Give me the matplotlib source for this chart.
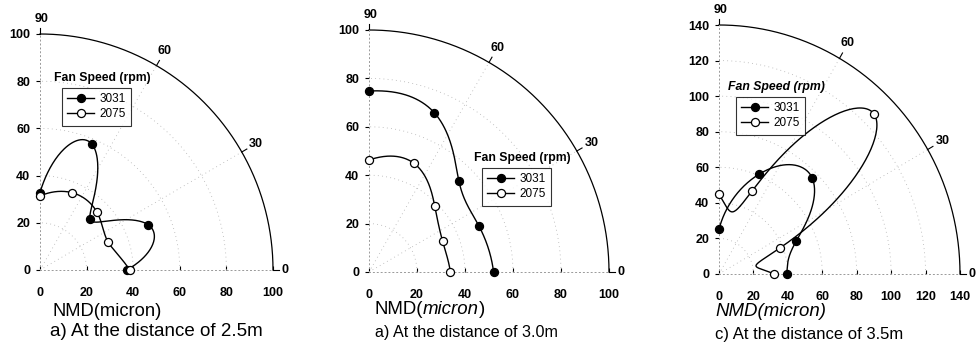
import numpy as np
import matplotlib.pyplot as plt

plt.rcParams['font.family'] = ['Liberation Sans', 'DejaVu Sans']

# angle of each measurement (deg) and NMD radius (micron) per fan speed
angles = [0, 22.5, 45, 67.5, 90]

a_3031 = [37.3, 50.2, 30.4, 57.9, 32.8]
a_2075 = [38.5, 31.5, 34.6, 35.5, 31.4]
b_3031 = [51.9, 49.6, 53.0, 71.2, 74.8]
b_2075 = [33.9, 33.2, 38.7, 48.7, 46.3]
c_3031 = [39.3, 48.6, 76.5, 60.7, 25.1]
c_2075 = [32.0, 38.4, 127.3, 50.8, 44.8]

series_names = ['3031', '2075']
r_max = [100, 100, 140]
angle_ticks = [0, 30, 60, 90]
captions = ['a) At the distance of 2.5m', 'a) At the distance of 3.0m',
            'c) At the distance of 3.5m']

# axes placement in pixels: origin x, origin y, x of r_max, y of r_max
px = [(40, 270, 273, 34), (369, 272, 609, 30), (719, 274, 960, 25)]
legend_px = [(62, 88), (482, 168), (736, 97)]
label_px = [(52, 311, 13.2), (374, 310, 13.4), (715, 312, 13.4)]
caption_px = [(50, 331, 13.5), (375, 332, 11.6), (715, 334, 12.0)]


def polar_spline(theta, r, n=60):
    # natural cubic spline of r against theta (the plot smooths in polar)
    theta = np.asarray(theta, float)
    r = np.asarray(r, float)
    k = len(r)
    h = np.diff(theta)
    A = np.zeros((k, k))
    rhs = np.zeros(k)
    A[0, 0] = A[-1, -1] = 1
    for i in range(1, k - 1):
        A[i, i - 1] = h[i - 1]
        A[i, i] = 2 * (h[i - 1] + h[i])
        A[i, i + 1] = h[i]
        rhs[i] = 6 * ((r[i + 1] - r[i]) / h[i] - (r[i] - r[i - 1]) / h[i - 1])
    M = np.linalg.solve(A, rhs)
    tt, rr = [], []
    u = np.linspace(0, 1, n)
    for i in range(k - 1):
        tt.append(theta[i] + u * h[i])
        rr.append((1 - u) * r[i] + u * r[i + 1]
                  + h[i] ** 2 / 6 * (((1 - u) ** 3 - (1 - u)) * M[i] + (u ** 3 - u) * M[i + 1]))
    tt = np.concatenate(tt)
    rr = np.concatenate(rr)
    return rr * np.cos(tt), rr * np.sin(tt)


W, H = 976, 354
fig = plt.figure(figsize=(W / 100, H / 100), dpi=100)

data = [(a_3031, a_2075), (b_3031, b_2075), (c_3031, c_2075)]
th = np.radians(angles)
grid_style = dict(color='#b0b0b0', lw=0.6, linestyle=(0, (1, 4)))

for k in range(3):
    x0, y0, x1, y1 = px[k]
    ax = fig.add_axes([x0 / W, (H - y0) / H, (x1 - x0) / W, (y0 - y1) / H])
    rm = r_max[k]
    ax.set_xlim(0, rm)
    ax.set_ylim(0, rm)
    for s in ['top', 'right']:
        ax.spines[s].set_visible(False)
    for s in ['left', 'bottom']:
        ax.spines[s].set_linestyle((0, (1, 3)))
        ax.spines[s].set_color('#999999')
        ax.spines[s].set_linewidth(0.7)
    ticks = np.arange(0, rm + 1, 20)
    ax.set_xticks(ticks)
    ax.set_yticks(ticks)
    ax.tick_params(axis='y', direction='out', length=3, width=0.8, pad=4, labelsize=9)
    ax.tick_params(axis='x', direction='in', length=3, width=0.8, pad=12, labelsize=9)
    for lab in ax.get_xticklabels() + ax.get_yticklabels():
        lab.set_fontweight('bold')

    # dotted grid: arcs and rays
    phi = np.linspace(0, np.pi / 2, 200)
    for r in ticks[1:-1]:
        ax.plot(r * np.cos(phi), r * np.sin(phi), **grid_style)
    for a in [30, 60]:
        ax.plot([0, rm * np.cos(np.radians(a))], [0, rm * np.sin(np.radians(a))],
                **grid_style)

    # outer arc with angle ticks
    ax.plot(rm * np.cos(phi), rm * np.sin(phi), '-', color='black', lw=0.9, clip_on=False)
    for a in angle_ticks:
        ar = np.radians(a)
        ax.plot([rm * np.cos(ar), rm * 1.025 * np.cos(ar)],
                [rm * np.sin(ar), rm * 1.025 * np.sin(ar)], color='black', lw=0.8,
                clip_on=False)
        if a == 90:
            ax.annotate(str(a), (0, rm), xytext=(1, 11), textcoords='offset points',
                        ha='center', va='center', fontsize=9, fontweight='bold')
        elif a == 0:
            ax.annotate(str(a), (rm, 0), xytext=(6, 0), textcoords='offset points',
                        ha='left', va='center', fontsize=9, fontweight='bold')
        else:
            ax.text(rm * 1.07 * np.cos(ar), rm * 1.07 * np.sin(ar), str(a),
                    ha='center', va='center', fontsize=9, fontweight='bold')

    handles = []
    for r, name, face in zip(data[k], series_names, ['black', 'white']):
        r = np.array(r)
        cx_, cy_ = polar_spline(th, r)
        ax.plot(cx_, cy_, color='black', lw=1.0, clip_on=False, zorder=3)
        ax.plot(r * np.cos(th), r * np.sin(th), 'o', color='black', mfc=face,
                mec='black', ms=5.8, mew=0.9, clip_on=False, zorder=4)
        handles.append(ax.plot([], [], 'o-', color='black', mfc=face, mec='black',
                               ms=5.8, mew=0.9, lw=1.0)[0])

    lx, ly = legend_px[k]
    leg = ax.legend(handles, series_names, loc='upper left',
                    bbox_to_anchor=((lx - x0) / (x1 - x0), (y0 - ly) / (y0 - y1)),
                    frameon=True, fancybox=False, edgecolor='black', fontsize=8.5,
                    handlelength=2.3, handletextpad=0.4, borderpad=0.45,
                    labelspacing=0.25, borderaxespad=0)
    leg.get_frame().set_linewidth(0.8)
    title_style = 'italic' if k == 2 else 'normal'
    ax.text((lx - x0 - 8) / (x1 - x0), (y0 - ly + 4) / (y0 - y1), 'Fan Speed (rpm)',
            transform=ax.transAxes, ha='left', va='bottom', fontsize=8.8,
            fontweight='bold', fontstyle=title_style)

    # bottom labels
    nx, ny, nfs = label_px[k]
    if k == 0:
        fig.text(nx / W, 1 - ny / H, 'NMD(micron)', ha='left', va='center', fontsize=nfs)
    elif k == 1:
        t1 = fig.text(nx / W, 1 - ny / H, 'NMD(', ha='left', va='center', fontsize=nfs)
        fig.canvas.draw()
        bb = t1.get_window_extent()
        t2 = fig.text(bb.x1 / W, 1 - ny / H, 'micron', ha='left', va='center',
                      fontsize=nfs, fontstyle='italic')
        fig.canvas.draw()
        bb = t2.get_window_extent()
        fig.text(bb.x1 / W, 1 - ny / H, ')', ha='left', va='center', fontsize=nfs)
    else:
        fig.text(nx / W, 1 - ny / H, 'NMD(micron)', ha='left', va='center',
                 fontsize=nfs, fontstyle='italic')
    cx, cy, cfs = caption_px[k]
    fig.text(cx / W, 1 - cy / H, captions[k], ha='left', va='center', fontsize=cfs)

fig.savefig('out.png', dpi=100)
